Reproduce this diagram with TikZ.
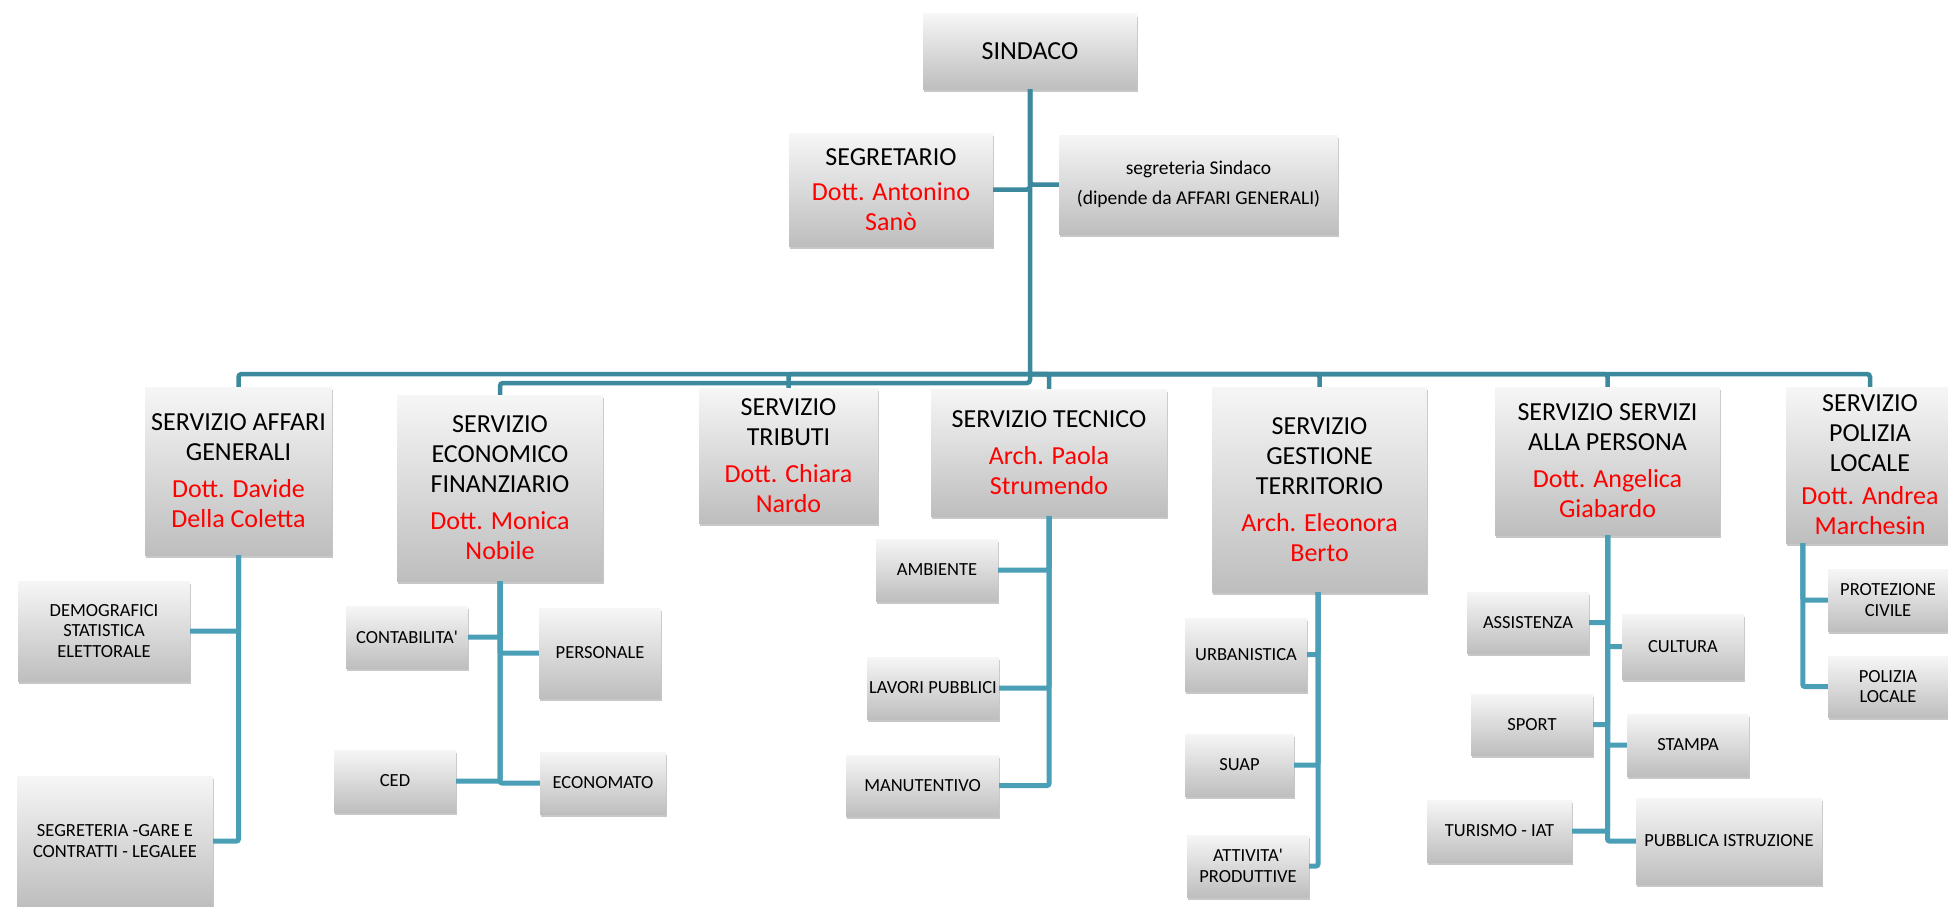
\documentclass[tikz,border=0pt]{standalone}
\usepackage{fontspec}
\setmainfont{Carlito}[Ligatures=TeXOff]
\usetikzlibrary{shadows}
\definecolor{busc}{RGB}{60,136,157}
\definecolor{linec}{RGB}{74,159,182}
\definecolor{boxtop}{RGB}{246,246,246}
\definecolor{boxbot}{RGB}{190,190,190}
\definecolor{namered}{RGB}{255,0,0}
\newcommand{\rd}{\color{namered}}
\tikzset{
  box/.style={rectangle, inner sep=0pt, top color=boxtop, bottom color=boxbot, draw=none, align=center,
    drop shadow={shadow xshift=1pt, shadow yshift=-3pt, opacity=0.22, fill=black}},
  big/.style={box, font=\fontsize{26}{30}\selectfont},
  small/.style={box, font=\fontsize{18.5}{20.5}\selectfont},
  note/.style={box, font=\fontsize{19.5}{30}\selectfont},
  bus/.style={draw=busc, line width=4.5pt, rounded corners=3pt},
  conn/.style={draw=linec, line width=5pt, rounded corners=2pt},
}
\begin{document}
\begin{tikzpicture}[x=1pt,y=-1pt]
\useasboundingbox (0,0) rectangle (1948,907);
\fill[white] (0,0) rectangle (1948,907);
\clip (0,0) rectangle (1948,907);

% top level
\node[big, minimum width=214pt, minimum height=75pt] (sindaco) at (1030,51.5) {SINDACO};
\node[big, minimum width=204pt, minimum height=113pt] (segretario) at (891,189.5) {SEGRETARIO\\[5pt]\rd Dott. Antonino\\\rd Sanò};
\node[note, minimum width=279pt, minimum height=99pt] (segreteria) at (1198.5,184.5) {segreteria Sindaco\\(dipende da AFFARI GENERALI)};

% second level
\node[big, minimum width=187pt, minimum height=168pt] (affari) at (238.5,471) {SERVIZIO AFFARI\\GENERALI\\[7pt]\rd Dott. Davide\\\rd Della Coletta};
\node[big, minimum width=206pt, minimum height=186pt] (economico) at (500,488) {SERVIZIO\\ECONOMICO\\FINANZIARIO\\[7pt]\rd Dott. Monica\\\rd Nobile};
\node[big, minimum width=179pt, minimum height=135pt] (tributi) at (788.5,455.5) {SERVIZIO\\TRIBUTI\\[7pt]\rd Dott. Chiara\\\rd Nardo};
\node[big, minimum width=236pt, minimum height=127pt] (tecnico) at (1049,452.5) {SERVIZIO TECNICO\\[7pt]\rd Arch. Paola\\\rd Strumendo};
\node[big, minimum width=215pt, minimum height=205pt] (gestione) at (1319.5,489.5) {SERVIZIO\\GESTIONE\\TERRITORIO\\[7pt]\rd Arch. Eleonora\\\rd Berto};
\node[big, minimum width=225pt, minimum height=148pt] (servizi) at (1607.5,461) {SERVIZIO SERVIZI\\ALLA PERSONA\\[7pt]\rd Dott. Angelica\\\rd Giabardo};
\node[big, minimum width=168pt, minimum height=156pt] (polizia) at (1870,465) {SERVIZIO\\POLIZIA\\LOCALE\\[3pt]\rd Dott. Andrea\\\rd Marchesin};

% third level
\node[small, minimum width=172pt, minimum height=100pt] (demografici) at (104,631) {DEMOGRAFICI\\STATISTICA\\ELETTORALE};
\node[small, minimum width=196pt, minimum height=130pt] (gare) at (115,841) {SEGRETERIA -GARE E\\CONTRATTI - LEGALEE};
\node[small, minimum width=122pt, minimum height=62pt] (contabilita) at (407,637) {CONTABILITA'};
\node[small, minimum width=122pt, minimum height=90pt] (personale) at (600,653) {PERSONALE};
\node[small, minimum width=122pt, minimum height=62pt] (ced) at (395,781) {CED};
\node[small, minimum width=126pt, minimum height=62pt] (economato) at (603,783) {ECONOMATO};
\node[small, minimum width=122pt, minimum height=62pt] (ambiente) at (937,570) {AMBIENTE};
\node[small, minimum width=132pt, minimum height=62pt] (lavori) at (933,688) {LAVORI PUBBLICI};
\node[small, minimum width=153pt, minimum height=61pt] (manutentivo) at (922.5,785.5) {MANUTENTIVO};
\node[small, minimum width=122pt, minimum height=73pt] (urbanistica) at (1246,654.5) {URBANISTICA};
\node[small, minimum width=109pt, minimum height=62pt] (suap) at (1239.5,765) {SUAP};
\node[small, minimum width=122pt, minimum height=62pt] (attivita) at (1248,866) {ATTIVITA'\\PRODUTTIVE};
\node[small, minimum width=122pt, minimum height=61pt] (assistenza) at (1528,622.5) {ASSISTENZA};
\node[small, minimum width=122pt, minimum height=65pt] (cultura) at (1683,646.5) {CULTURA};
\node[small, minimum width=122pt, minimum height=61pt] (sport) at (1532,724.5) {SPORT};
\node[small, minimum width=122pt, minimum height=62pt] (stampa) at (1688,745) {STAMPA};
\node[small, minimum width=145pt, minimum height=62pt] (turismo) at (1499.5,831) {TURISMO - IAT};
\node[small, minimum width=186pt, minimum height=86pt] (pubblica) at (1729,841) {PUBBLICA ISTRUZIONE};
\node[small, minimum width=120pt, minimum height=62pt] (protezione) at (1888,600) {PROTEZIONE\\CIVILE};
\node[small, minimum width=120pt, minimum height=61pt] (polloc) at (1888,686.5) {POLIZIA\\LOCALE};

% bus coordinates
\coordinate (bus) at (1030,374);
\coordinate (bus2) at (1030,383);

% top connectors
\draw[bus] (segretario.east) -| (sindaco.south);
\draw[bus] (segreteria.west) -| (sindaco.south);
\draw[bus] (sindaco.south) -- (bus2) -| (economico.north);
\draw[bus] (affari.north) |- (bus) -| (polizia.north);
\draw[bus] (bus) -| (tributi.north);
\draw[bus] (bus) -| (tecnico.north);
\draw[bus] (bus) -| (gestione.north);
\draw[bus] (bus) -| (servizi.north);

% child connectors
\draw[conn] (affari.south) |- (demografici.east);
\draw[conn] (affari.south) |- (gare.east);
\draw[conn] (economico.south) |- (contabilita.east);
\draw[conn] (economico.south) |- (personale.west);
\draw[conn] (economico.south) |- (ced.east);
\draw[conn] (economico.south) |- (economato.west);
\draw[conn] (tecnico.south) |- (ambiente.east);
\draw[conn] (tecnico.south) |- (lavori.east);
\draw[conn] (tecnico.south) |- (manutentivo.east);
\draw[conn] ([xshift=-1.5pt]gestione.south) |- (urbanistica.east);
\draw[conn] ([xshift=-1.5pt]gestione.south) |- (suap.east);
\draw[conn] ([xshift=-1.5pt]gestione.south) |- (attivita.east);
\draw[conn] (servizi.south) |- (assistenza.east);
\draw[conn] (servizi.south) |- (cultura.west);
\draw[conn] (servizi.south) |- (sport.east);
\draw[conn] (servizi.south) |- (stampa.west);
\draw[conn] (servizi.south) |- (turismo.east);
\draw[conn] (servizi.south) |- (pubblica.west);
\draw[conn] ([xshift=17pt]polizia.south west) |- (protezione.west);
\draw[conn] ([xshift=17pt]polizia.south west) |- (polloc.west);
\end{tikzpicture}
\end{document}
